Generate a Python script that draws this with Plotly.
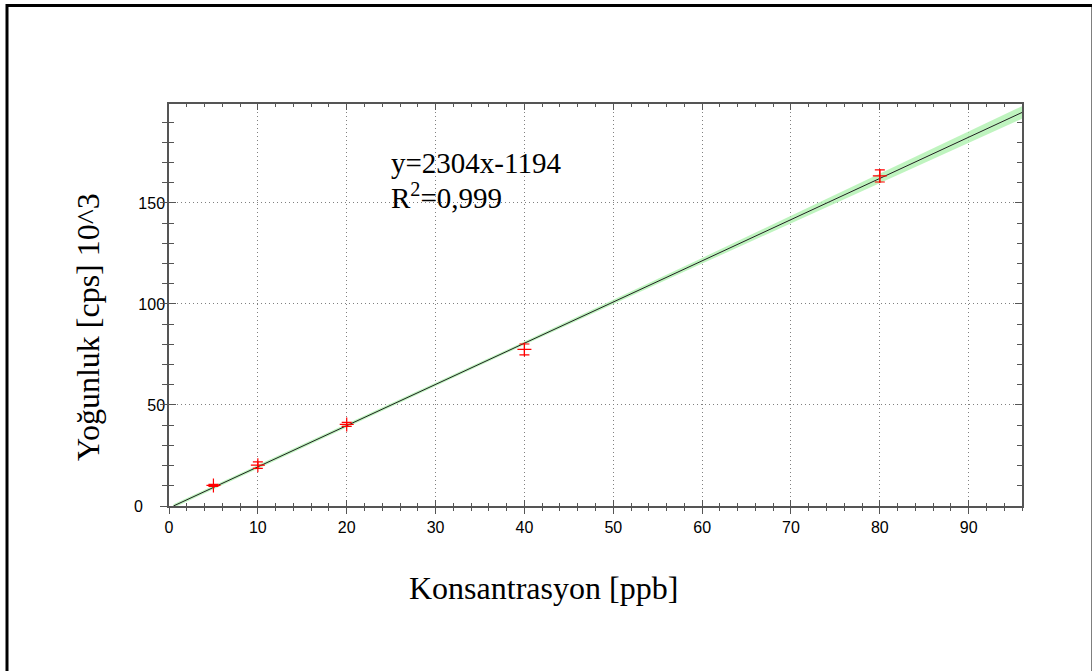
import plotly.graph_objects as go

# Data
conc = [5, 10, 20, 40, 80]                 # ppb
intensity = [10.2, 20.2, 40.4, 77.5, 163.4]  # cps x 10^3
intensity_err = [0.5, 1.6, 1.0, 2.7, 3.0]

fit_x = [0.5, 96]
fit_y = [0.0, 194.8]

band_x = [0.5, 20, 40, 60, 80, 96]
band_center = [0.0, 39.8, 80.6, 121.4, 162.2, 194.8]
band_half = [0.9, 0.7, 0.8, 1.4, 2.3, 3.1]

tick_vals_x = [0, 10, 20, 30, 40, 50, 60, 70, 80, 90]
tick_vals_y = [0, 50, 100, 150]
tick_text_y = ["0" + "\u00a0" * 5, "50", "100", "150"]

eq_line1 = "y=2304x-1194"
eq_line2 = "R<sup>2</sup>=0,999"
x_title = "Konsantrasyon [ppb]"
y_title = "Yoğunluk [cps] 10^3"

SERIF = "Liberation Serif, Times New Roman, serif"
SANS = "Liberation Sans, Arial, sans-serif"

fig = go.Figure()

band_upper = [c + h for c, h in zip(band_center, band_half)]
band_lower = [c - h for c, h in zip(band_center, band_half)]

fig.add_trace(go.Scatter(x=band_x, y=band_lower, mode="lines",
                         line=dict(width=0, color="rgba(0,0,0,0)"),
                         hoverinfo="skip", showlegend=False))
fig.add_trace(go.Scatter(x=band_x, y=band_upper, mode="lines",
                         line=dict(width=0, color="rgba(0,0,0,0)"),
                         fill="tonexty", fillcolor="rgba(170,240,170,0.75)",
                         hoverinfo="skip", showlegend=False))
fig.add_trace(go.Scatter(x=fit_x, y=fit_y, mode="lines",
                         line=dict(color="#202020", width=1),
                         showlegend=False))
fig.add_trace(go.Scatter(x=conc, y=intensity, mode="markers",
                         marker=dict(symbol="cross-thin", size=10,
                                     line=dict(color="#ff0000", width=1.2),
                                     color="#ff0000"),
                         error_y=dict(type="data", array=intensity_err,
                                      color="#ff0000", thickness=1.2, width=5),
                         showlegend=False))

axis_line = "#555555"
grid_col = "#808080"

fig.update_layout(
    width=1092, height=671,
    margin=dict(l=169, r=70, t=104, b=165),
    paper_bgcolor="white", plot_bgcolor="white",
    showlegend=False,
    xaxis=dict(range=[0, 96], tickvals=tick_vals_x, ticks="outside", ticklen=6,
               tickcolor=axis_line, showline=True, linecolor=axis_line, linewidth=1.5,
               showgrid=True, gridcolor=grid_col, griddash="1px,3px", gridwidth=1,
               zeroline=False, tickfont=dict(family=SANS, size=16, color="black"),
               minor=dict(dtick=2, ticks="outside", ticklen=3, tickcolor=axis_line, showgrid=False)),
    yaxis=dict(range=[0, 199], tickvals=tick_vals_y, ticktext=tick_text_y,
               ticks="inside", ticklen=7, ticklabelstandoff=-1,
               tickcolor=axis_line, showline=True, linecolor=axis_line, linewidth=1.5,
               showgrid=True, gridcolor=grid_col, griddash="1px,3px", gridwidth=1,
               zeroline=False, tickfont=dict(family=SANS, size=16, color="black"),
               minor=dict(dtick=10, ticks="inside", ticklen=5, tickcolor=axis_line, showgrid=False)),
    xaxis2=dict(range=[0, 96], overlaying="x", side="bottom", tickvals=tick_vals_x,
                ticks="inside", ticklen=6, tickcolor=axis_line, showticklabels=False,
                showgrid=False, zeroline=False, showline=True, linecolor=axis_line,
                linewidth=1.5, mirror="ticks",
                minor=dict(dtick=2, ticks="inside", ticklen=3, tickcolor=axis_line)),
    yaxis2=dict(range=[0, 199], overlaying="y", side="left", tickvals=tick_vals_y,
                ticks="outside", ticklen=7, tickcolor=axis_line, showticklabels=False,
                showgrid=False, zeroline=False, showline=True, linecolor=axis_line,
                linewidth=1.5,
                minor=dict(dtick=10, ticks="outside", ticklen=5, tickcolor=axis_line)),
    yaxis3=dict(range=[0, 199], overlaying="y", side="right", tickvals=tick_vals_y,
                ticks="inside", ticklen=7, tickcolor=axis_line, showticklabels=False,
                showgrid=False, zeroline=False, showline=True, linecolor=axis_line,
                linewidth=1.5,
                minor=dict(dtick=10, ticks="inside", ticklen=5, tickcolor=axis_line)),
)

# dummy traces to activate secondary axes
fig.add_trace(go.Scatter(x=[None], y=[None], xaxis="x2", yaxis="y2",
                         showlegend=False, hoverinfo="skip"))
fig.add_trace(go.Scatter(x=[None], y=[None], xaxis="x2", yaxis="y3",
                         showlegend=False, hoverinfo="skip"))

W, H = 853.0, 402.0
def px_to_paper_x(px):
    return (px - 169) / W
def px_to_paper_y(py):
    return (506 - py) / H

# white box behind the equation text (hides grid)
fig.add_shape(type="rect", xref="paper", yref="paper",
              x0=px_to_paper_x(368), x1=px_to_paper_x(575),
              y0=px_to_paper_y(222), y1=px_to_paper_y(130),
              line=dict(width=0), fillcolor="white", layer="between")

fig.add_annotation(x=px_to_paper_x(389), y=px_to_paper_y(163), xref="paper", yref="paper",
                   xanchor="left", yanchor="middle", text=eq_line1, showarrow=False,
                   font=dict(family=SERIF, size=29, color="black"))
fig.add_annotation(x=px_to_paper_x(389), y=px_to_paper_y(196), xref="paper", yref="paper",
                   xanchor="left", yanchor="middle", text=eq_line2, showarrow=False,
                   font=dict(family=SERIF, size=29, color="black"))

# axis titles
fig.add_annotation(x=px_to_paper_x(543), y=px_to_paper_y(588), xref="paper", yref="paper",
                   xanchor="center", yanchor="middle", text=x_title, showarrow=False,
                   font=dict(family=SERIF, size=32, color="black"))
fig.add_annotation(x=px_to_paper_x(88), y=px_to_paper_y(327), xref="paper", yref="paper",
                   xanchor="center", yanchor="middle", text=y_title, showarrow=False,
                   textangle=-90, font=dict(family=SERIF, size=32, color="black"))

# outer black frame
fig.add_shape(type="rect", xref="paper", yref="paper",
              x0=px_to_paper_x(7), x1=px_to_paper_x(1093),
              y0=px_to_paper_y(690), y1=px_to_paper_y(5.5),
              line=dict(color="black", width=3), fillcolor="rgba(0,0,0,0)",
              layer="above")

fig.write_html("out.html", config={"displayModeBar": False},
               post_script="document.body.style.margin='0px';")
